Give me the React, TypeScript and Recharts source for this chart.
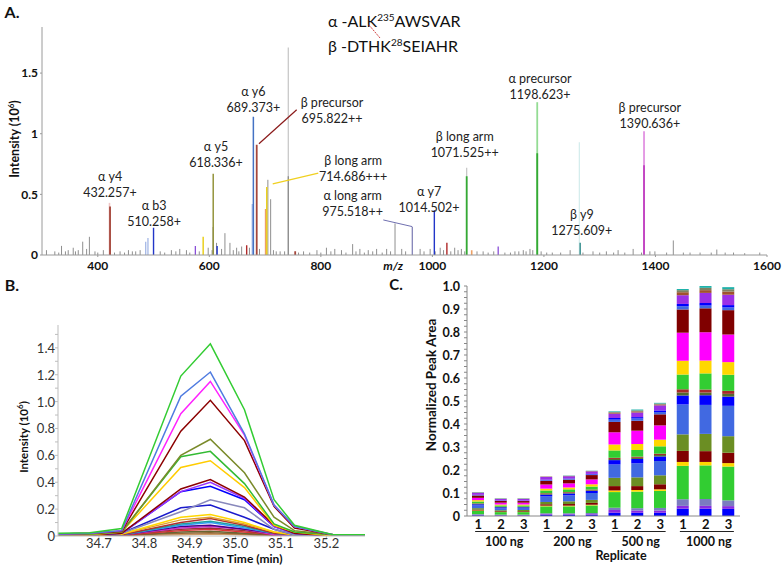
import React from 'react';
import { Bar, BarChart, Line, LineChart, ReferenceDot, ReferenceLine, XAxis, YAxis } from 'recharts';

const FONT = "Lato, 'Noto Sans', 'DejaVu Sans', sans-serif";

// ---------- panel A: MS/MS spectrum (m/z, intensity 10^6) ----------
const greyPeaks = [
  [308, 0.04], [323, 0.03], [330, 0.02], [335, 0.075], [342, 0.03], [347, 0.04], [356, 0.06], [360, 0.03],
  [365, 0.04], [373, 0.11], [380, 0.05], [385, 0.15], [395, 0.03], [400, 0.02], [410, 0.04], [430, 0.02],
  [440, 0.03], [448, 0.02], [455, 0.04], [462, 0.03], [468, 0.03], [476, 0.04], [512, 0.03], [520, 0.02],
  [532, 0.04], [540, 0.03], [547, 0.05], [559, 0.04], [565, 0.02], [582, 0.03], [598, 0.06], [605, 0.04],
  [613, 0.1], [622, 0.05], [628, 0.18], [637, 0.1], [643, 0.04], [649, 0.06], [653, 0.03], [658, 0.07],
  [672, 0.06], [690, 0.05], [705, 0.62], [710, 0.46], [715, 0.04], [720, 0.03], [727, 0.03], [735, 0.03],
  [760, 0.02], [769, 0.03], [780, 0.02], [793, 0.04], [800, 0.02], [810, 0.06], [818, 0.03], [825, 0.05],
  [837, 0.04], [845, 0.02], [857, 0.09], [863, 0.03], [870, 0.05], [878, 0.02], [885, 0.04], [893, 0.03],
  [900, 0.05], [910, 0.02], [918, 0.05], [925, 0.03], [933, 0.26], [945, 0.05], [952, 0.03], [978, 0.05],
  [985, 0.03], [996, 0.05], [1005, 0.03], [1014, 0.06], [1020, 0.04], [1033, 0.03], [1040, 0.06], [1046, 0.04],
  [1052, 0.05], [1058, 0.03], [1080, 0.03], [1091, 0.03], [1100, 0.02], [1110, 0.03], [1130, 0.02], [1140, 0.02],
  [1148, 0.03], [1155, 0.03], [1163, 0.04], [1168, 0.03], [1175, 0.05], [1180, 0.04], [1195, 0.03], [1205, 0.02],
  [1215, 0.02], [1230, 0.02], [1247, 0.04], [1270, 0.02], [1288, 0.03], [1300, 0.02], [1312, 0.03], [1325, 0.02],
  [1333, 0.04], [1345, 0.02], [1360, 0.05], [1375, 0.02], [1390, 0.03], [1399, 0.03], [1420, 0.02], [1432, 0.12],
  [1450, 0.02], [1462, 0.02], [1480, 0.02], [1500, 0.02], [1510, 0.045], [1525, 0.02], [1540, 0.02], [1560, 0.015],
  [1587, 0.02],
];
const paleGreyPeaks = [[741.6, 1.71], [1061.5, 0.72]];
const darkGreyPeaks = [[741.6, 0.65], [607, 0.23]];
const palePinkPeaks = [[421, 0.43]];
const paleCyanPeaks = [[1263.5, 0.93]];
const paleBluePeaks = [[486, 0.11], [490, 0.14], [677, 0.42]];
const brownPeaks = [[422, 0.4], [685, 0.91], [754, 0.03]];
const darkRedPeaks = [[667, 0.08], [1026, 0.1]];
const bluePeaks = [[500, 0.225], [614, 0.075], [1003.5, 0.37]];
const steelPeaks = [[679, 1.14]];
const purplePeaks = [[575, 0.075], [1118, 0.07]];
const yellowPeaks = [[589, 0.15], [703, 0.56]];
const peachPeaks = [[701, 0.38], [1070.5, 0.04]];
const olivePeaks = [[607, 0.67]];
const lavenderPeaks = [[964, 0.23]];
const paleGreenPeaks = [[1188, 1.26]];
const greenPeaks = [[1061.5, 0.65], [1188, 0.84]];
const tealPeaks = [[1265, 0.1]];
const paleMagentaPeaks = [[1379.5, 1.02]];
const magentaPeaks = [[1379.5, 0.74]];

const spectrumTicksX = [400, 600, 800, 1000, 1200, 1400, 1600];
const spectrumTicksY = [0, 0.5, 1, 1.5];

const annLabels = [
  { mz: 422, v: 0.647, top: 'α y4', bottom: '432.257+' },
  { mz: 501, v: 0.407, top: 'α b3', bottom: '510.258+' },
  { mz: 612, v: 0.895, top: 'α y5', bottom: '618.336+' },
  { mz: 679, v: 1.35, top: 'α y6', bottom: '689.373+' },
  { mz: 820, v: 1.254, top: 'β precursor', bottom: '695.822++' },
  { mz: 858, v: 0.777, top: 'β long arm', bottom: '714.686+++' },
  { mz: 857, v: 0.49, top: 'α long arm', bottom: '975.518++' },
  { mz: 994, v: 0.523, top: 'α y7', bottom: '1014.502+' },
  { mz: 1058, v: 0.978, top: 'β long arm', bottom: '1071.525++' },
  { mz: 1193, v: 1.452, top: 'α precursor', bottom: '1198.623+' },
  { mz: 1268, v: 0.331, top: 'β y9', bottom: '1275.609+' },
  { mz: 1390, v: 1.217, top: 'β precursor', bottom: '1390.636+' },
];

// ---------- panel B: extracted ion chromatograms ----------
const rtTimes = [34.61, 34.68, 34.75, 34.88, 34.945, 35.02, 35.085, 35.13, 35.215, 35.285];
const xicGreen = [0.02, 0.025, 0.055, 1.19, 1.43, 0.94, 0.27, 0.08, 0.01, 0.01];
const xicCornflower = [0.015, 0.02, 0.04, 1.04, 1.22, 0.76, 0.23, 0.07, 0.01, 0.01];
const xicMagenta = [0.015, 0.02, 0.04, 0.91, 1.15, 0.75, 0.23, 0.07, 0.01, 0.01];
const xicMaroon = [0.015, 0.02, 0.035, 0.78, 1.01, 0.71, 0.22, 0.06, 0.01, 0.01];
const xicOlive = [0.01, 0.015, 0.03, 0.6, 0.72, 0.47, 0.14, 0.04, 0.01, 0.01];
const xicGreen2 = [0.01, 0.015, 0.03, 0.59, 0.63, 0.39, 0.09, 0.03, 0.01, 0.01];
const xicGold = [0.01, 0.01, 0.03, 0.51, 0.56, 0.36, 0.08, 0.03, 0, 0];
const xicMaroon2 = [0.01, 0.01, 0.02, 0.35, 0.42, 0.29, 0.08, 0.02, 0, 0];
const xicPurple = [0.01, 0.01, 0.02, 0.33, 0.4, 0.28, 0.07, 0.02, 0, 0];
const xicBlue = [0.01, 0.01, 0.02, 0.33, 0.37, 0.27, 0.07, 0.02, 0, 0];
const xicLavender = [0.01, 0.01, 0.02, 0.18, 0.27, 0.21, 0.05, 0.01, 0, 0];
const xicBlue2 = [0.01, 0.01, 0.02, 0.21, 0.23, 0.14, 0.05, 0.01, 0, 0];
const xicYellow = [0.005, 0.01, 0.015, 0.14, 0.16, 0.1, 0.03, 0.01, 0, 0];
const xicOrange = [0.005, 0.01, 0.015, 0.12, 0.14, 0.09, 0.03, 0.01, 0, 0];
const xicBrick = [0.005, 0.005, 0.01, 0.1, 0.13, 0.08, 0.02, 0.01, 0, 0];
const xicTeal = [0.005, 0.005, 0.01, 0.09, 0.11, 0.07, 0.02, 0.01, 0, 0];
const xicSky = [0.005, 0.005, 0.01, 0.08, 0.1, 0.06, 0.02, 0.005, 0, 0];
const xicIndigo = [0.005, 0.005, 0.01, 0.07, 0.08, 0.05, 0.02, 0.005, 0, 0];
const xicViolet = [0.005, 0.005, 0.01, 0.06, 0.07, 0.05, 0.01, 0.005, 0, 0];
const xicRust = [0.005, 0.005, 0.01, 0.05, 0.06, 0.04, 0.01, 0.005, 0, 0];
const xicRed = [0, 0.005, 0.005, 0.04, 0.05, 0.03, 0.01, 0, 0, 0];
const xicDarkOlive = [0, 0, 0.005, 0.03, 0.035, 0.02, 0.01, 0, 0, 0];
const xicBrown = [0, 0, 0.005, 0.02, 0.025, 0.015, 0.005, 0, 0, 0];
const xicTan = [0, 0, 0, 0.01, 0.015, 0.01, 0, 0, 0, 0];
const rtTicks = [34.7, 34.8, 34.9, 35.0, 35.1, 35.2];

// ---------- panel C: normalized peak areas ----------
const replicateLabels = ['1', '2', '3', '1', '2', '3', '1', '2', '3', '1', '2', '3'];
const loadLabels = ['100 ng', '200 ng', '500 ng', '1000 ng'];
const cBlueBase = [0.003, 0.002, 0.002, 0.005, 0.005, 0.005, 0.014, 0.014, 0.014, 0.032, 0.032, 0.031];
const cPurpleBase = [0.002, 0.002, 0.002, 0.003, 0.003, 0.003, 0.012, 0.01, 0.01, 0.012, 0.012, 0.012];
const cLavender = [0.003, 0.002, 0.002, 0.004, 0.004, 0.005, 0.01, 0.01, 0.011, 0.029, 0.03, 0.025];
const cGreenLow = [0.014, 0.011, 0.011, 0.03, 0.03, 0.033, 0.068, 0.072, 0.074, 0.145, 0.146, 0.147];
const cGoldThin = [0.002, 0.001, 0.001, 0.003, 0.003, 0.003, 0.007, 0.007, 0.007, 0.017, 0.015, 0.015];
const cMaroonLow = [0.004, 0.003, 0.003, 0.006, 0.007, 0.008, 0.019, 0.017, 0.022, 0.048, 0.047, 0.045];
const cOlive = [0.006, 0.004, 0.005, 0.01, 0.012, 0.013, 0.036, 0.038, 0.039, 0.072, 0.075, 0.072];
const cRoyal = [0.012, 0.009, 0.009, 0.024, 0.026, 0.03, 0.058, 0.061, 0.062, 0.13, 0.126, 0.132];
const cBlueMid = [0.005, 0.004, 0.003, 0.008, 0.008, 0.009, 0.019, 0.019, 0.02, 0.039, 0.042, 0.04];
const cDarkOlive = [0.002, 0.001, 0.001, 0.003, 0.003, 0.003, 0.005, 0.005, 0.006, 0.013, 0.012, 0.012];
const cRedThin = [0.002, 0.001, 0.001, 0.003, 0.003, 0.003, 0.005, 0.005, 0.006, 0.014, 0.013, 0.013];
const cGreenHigh = [0.008, 0.006, 0.006, 0.012, 0.012, 0.013, 0.032, 0.029, 0.032, 0.064, 0.07, 0.07];
const cGold = [0.006, 0.004, 0.004, 0.008, 0.008, 0.01, 0.026, 0.026, 0.029, 0.06, 0.056, 0.055];
const cMagenta = [0.01, 0.008, 0.008, 0.018, 0.018, 0.021, 0.053, 0.058, 0.062, 0.122, 0.123, 0.12];
const cMaroonHigh = [0.01, 0.008, 0.007, 0.016, 0.016, 0.019, 0.045, 0.043, 0.048, 0.101, 0.104, 0.106];
const cRoyalThin = [0.002, 0.001, 0.001, 0.003, 0.003, 0.003, 0.01, 0.01, 0.01, 0.014, 0.012, 0.012];
const cBlueThin = [0.001, 0.001, 0.001, 0.002, 0.002, 0.002, 0.007, 0.006, 0.007, 0.01, 0.011, 0.01];
const cViolet = [0.009, 0.006, 0.007, 0.012, 0.01, 0.011, 0.019, 0.02, 0.022, 0.038, 0.044, 0.045];
const cBrown = [0.001, 0.001, 0.001, 0.001, 0.001, 0.001, 0.004, 0.005, 0.004, 0.013, 0.012, 0.014];
const cKhaki = [0.001, 0.001, 0.001, 0.001, 0.001, 0.001, 0.003, 0.004, 0.004, 0.009, 0.01, 0.01];
const cTeal = [0.001, 0.001, 0.001, 0, 0.001, 0.001, 0.003, 0.004, 0.003, 0.005, 0.008, 0.009];

// ---------- build tables ----------
const sticks = (peaks: number[][]) => {
  const out: any[] = [];
  [...peaks].sort((a, b) => a[0] - b[0]).forEach(([mz, h]) => {
    out.push({ mz, v: 0 }, { mz, v: h }, { mz, v: null });
  });
  return out;
};

const spectrumSeries = [
  { name: 'paleGrey', peaks: paleGreyPeaks, color: '#c4c4c4', w: 1.2 },
  { name: 'palePink', peaks: palePinkPeaks, color: '#f0c6c6', w: 1.6 },
  { name: 'paleCyan', peaks: paleCyanPeaks, color: '#d2ecec', w: 1.2 },
  { name: 'paleBlue', peaks: paleBluePeaks, color: '#9db2e4', w: 1.2 },
  { name: 'grey', peaks: greyPeaks, color: '#8f8f8f', w: 1 },
  { name: 'darkGrey', peaks: darkGreyPeaks, color: '#888888', w: 1.2 },
  { name: 'brown', peaks: brownPeaks, color: '#a5463a', w: 1.8 },
  { name: 'darkRed', peaks: darkRedPeaks, color: '#b02a2a', w: 1.4 },
  { name: 'blue', peaks: bluePeaks, color: '#2236c8', w: 1.4 },
  { name: 'steel', peaks: steelPeaks, color: '#4472c4', w: 1.5 },
  { name: 'purple', peaks: purplePeaks, color: '#8a4fd8', w: 1.3 },
  { name: 'peach', peaks: peachPeaks, color: '#eda064', w: 1.6 },
  { name: 'yellow', peaks: yellowPeaks, color: '#ead020', w: 1.5 },
  { name: 'olive', peaks: olivePeaks, color: '#94943c', w: 1.5 },
  { name: 'lavender', peaks: lavenderPeaks, color: '#8484b8', w: 1.3 },
  { name: 'paleGreen', peaks: paleGreenPeaks, color: '#94dc94', w: 1.8 },
  { name: 'green', peaks: greenPeaks, color: '#34aa34', w: 1.8 },
  { name: 'teal', peaks: tealPeaks, color: '#2f8a8a', w: 1.4 },
  { name: 'paleMagenta', peaks: paleMagentaPeaks, color: '#e292e2', w: 1.8 },
  { name: 'magenta', peaks: magentaPeaks, color: '#c040c0', w: 1.8 },
];

const xicSeries = [
  { key: 'tan', values: xicTan, color: '#cc9966' },
  { key: 'brown', values: xicBrown, color: '#996633' },
  { key: 'darkOlive', values: xicDarkOlive, color: '#666633' },
  { key: 'red', values: xicRed, color: '#dd3333' },
  { key: 'rust', values: xicRust, color: '#993333' },
  { key: 'violet', values: xicViolet, color: '#cc33cc' },
  { key: 'indigo', values: xicIndigo, color: '#4b0082' },
  { key: 'sky', values: xicSky, color: '#3399ff' },
  { key: 'teal', values: xicTeal, color: '#20a0a0' },
  { key: 'brick', values: xicBrick, color: '#b03030' },
  { key: 'orange', values: xicOrange, color: '#e0a030' },
  { key: 'yellow', values: xicYellow, color: '#ffd700' },
  { key: 'blue2', values: xicBlue2, color: '#1a1acc' },
  { key: 'lavender', values: xicLavender, color: '#8888bb' },
  { key: 'blue', values: xicBlue, color: '#0000ff' },
  { key: 'purple', values: xicPurple, color: '#9933ff' },
  { key: 'maroon2', values: xicMaroon2, color: '#8b0000' },
  { key: 'gold', values: xicGold, color: '#ffcc00' },
  { key: 'green2', values: xicGreen2, color: '#33bb33' },
  { key: 'olive', values: xicOlive, color: '#7a8a2a' },
  { key: 'maroon', values: xicMaroon, color: '#8b0000' },
  { key: 'magenta', values: xicMagenta, color: '#ff22ff' },
  { key: 'cornflower', values: xicCornflower, color: '#4f7be0' },
  { key: 'green', values: xicGreen, color: '#33cc33' },
];
const xicData = rtTimes.map((t, i) => {
  const row: any = { t };
  xicSeries.forEach((s) => (row[s.key] = s.values[i]));
  return row;
});

const areaSeries = [
  { key: 'blueBase', values: cBlueBase, color: '#0000ff' },
  { key: 'purpleBase', values: cPurpleBase, color: '#8a2be2' },
  { key: 'lavender', values: cLavender, color: '#7b7bc0' },
  { key: 'greenLow', values: cGreenLow, color: '#32cd32' },
  { key: 'goldThin', values: cGoldThin, color: '#ffd700' },
  { key: 'maroonLow', values: cMaroonLow, color: '#800000' },
  { key: 'olive', values: cOlive, color: '#6b8e23' },
  { key: 'royal', values: cRoyal, color: '#4169e1' },
  { key: 'blueMid', values: cBlueMid, color: '#0000ff' },
  { key: 'darkOlive', values: cDarkOlive, color: '#556b2f' },
  { key: 'redThin', values: cRedThin, color: '#a52a2a' },
  { key: 'greenHigh', values: cGreenHigh, color: '#32cd32' },
  { key: 'gold', values: cGold, color: '#ffd700' },
  { key: 'magenta', values: cMagenta, color: '#ff00ff' },
  { key: 'maroonHigh', values: cMaroonHigh, color: '#800000' },
  { key: 'royalThin', values: cRoyalThin, color: '#4169e1' },
  { key: 'blueThin', values: cBlueThin, color: '#0000ff' },
  { key: 'violet', values: cViolet, color: '#9b30e6' },
  { key: 'brown', values: cBrown, color: '#a0522d' },
  { key: 'khaki', values: cKhaki, color: '#808060' },
  { key: 'teal', values: cTeal, color: '#20b2aa' },
];
const areaData = replicateLabels.map((r, i) => {
  const row: any = { slot: `${loadLabels[Math.floor(i / 3)]}-${r}` };
  areaSeries.forEach((s) => (row[s.key] = s.values[i]));
  return row;
});

// ---------- small helpers ----------
const VLabel = ({ cx, cy, size, children }: any) => (
  <div
    style={{
      position: 'absolute',
      left: cx,
      top: cy,
      transform: 'translate(-50%, -50%) rotate(-90deg)',
      whiteSpace: 'nowrap',
      fontWeight: 700,
      fontSize: size,
      lineHeight: 1,
      color: '#111',
    }}
  >
    {children}
  </div>
);

const TextAt = ({ cx, cy, style, children }: any) => (
  <div
    style={{
      position: 'absolute',
      left: cx,
      top: cy,
      transform: 'translate(-50%, -50%)',
      whiteSpace: 'nowrap',
      color: '#111',
      lineHeight: 1,
      ...style,
    }}
  >
    {children}
  </div>
);

const AnnText = ({ cx, cy, top, bottom }: any) => (
  <g>
    <text x={cx} y={cy} textAnchor="middle" dominantBaseline="central" fontSize={12.5} fill="#222">
      {top}
    </text>
    <text x={cx} y={cy + 16} textAnchor="middle" dominantBaseline="central" fontSize={12.5} fill="#222">
      {bottom}
    </text>
  </g>
);

const YTickB = ({ x, y, payload }: any) => {
  const v = payload.value;
  if (Math.round(v * 10) % 2 !== 0) return <g />;
  return (
    <text x={x} y={y} textAnchor="end" dominantBaseline="central" fontSize={13} fill="#333">
      {v === 0 ? '0' : v.toFixed(1)}
    </text>
  );
};

const YTickC = ({ x, y, payload }: any) => {
  const v = payload.value;
  if (Math.abs(v * 10 - Math.round(v * 10)) > 1e-6) return <g />;
  return (
    <text x={x} y={y} textAnchor="end" dominantBaseline="central" fontSize={12.5} fontWeight={700} fill="#111">
      {v === 0 ? '0' : v.toFixed(1)}
    </text>
  );
};

const XTickC = ({ x, y, payload, index }: any) => {
  const i = payload?.index ?? index;
  const mid = i % 3 === 1;
  return (
    <g>
      <text x={x} y={y + 8} textAnchor="middle" dominantBaseline="central" fontSize={13} fontWeight={700} fill="#111">
        {replicateLabels[i]}
      </text>
      {mid && <line x1={x - 26} x2={x + 28} y1={y + 15.5} y2={y + 15.5} stroke="#222" strokeWidth={1.2} />}
      {mid && (
        <text x={x + 3} y={y + 25} textAnchor="middle" dominantBaseline="central" fontSize={12.5} fontWeight={700} fill="#111">
          {loadLabels[Math.floor(i / 3)]}
        </text>
      )}
    </g>
  );
};

const rtMinor = Array.from({ length: 16 }, (_, i) => Math.round(i * 10) / 100);
const areaTicks = Array.from({ length: 41 }, (_, i) => i / 40);

const App = () => {
  return (
    <div
      style={{
        position: 'absolute',
        left: 0,
        top: 0,
        width: 782,
        height: 566,
        background: '#fff',
        fontFamily: FONT,
        overflow: 'hidden',
      }}
    >
      {/* A. spectrum */}
      <div style={{ position: 'absolute', left: 0, top: 0 }}>
        <LineChart width={782} height={285} margin={{ top: 27, right: 15, left: 0, bottom: 0 }}>
          <XAxis
            type="number"
            dataKey="mz"
            domain={[300, 1600]}
            ticks={spectrumTicksX}
            interval={0}
            allowDataOverflow
            height={30}
            stroke="#9a9a9a"
            tickSize={2}
            tickMargin={4}
            tick={{ fontSize: 12, fontWeight: 700, fill: '#111' }}
          />
          <YAxis
            type="number"
            domain={[0, 1.88]}
            ticks={spectrumTicksY}
            interval={0}
            allowDataOverflow
            width={42}
            stroke="#9a9a9a"
            tickSize={2}
            tickMargin={2}
            tick={{ fontSize: 12, fontWeight: 700, fill: '#111' }}
          />
          {spectrumSeries.map((s) => (
            <Line
              key={s.name}
              data={sticks(s.peaks)}
              dataKey="v"
              stroke={s.color}
              strokeWidth={s.w}
              dot={false}
              activeDot={false}
              connectNulls={false}
              isAnimationActive={false}
            />
          ))}
          <ReferenceLine segment={[{ x: 689, y: 0.917 }, { x: 756.7, y: 1.198 }]} stroke="#8b1a1a" strokeWidth={1.2} />
          <ReferenceLine segment={[{ x: 713.7, y: 0.587 }, { x: 795.4, y: 0.675 }]} stroke="#f0d020" strokeWidth={1.2} />
          <ReferenceLine segment={[{ x: 912, y: 0.289 }, { x: 964, y: 0.234 }]} stroke="#7070b0" strokeWidth={1} />
          {annLabels.map((a, i) => (
            <ReferenceDot
              key={i}
              x={a.mz}
              y={a.v}
              r={0}
              ifOverflow="visible"
              shape={(p: any) => <AnnText cx={p.cx} cy={p.cy} top={a.top} bottom={a.bottom} />}
            />
          ))}
        </LineChart>
      </div>

      {/* B. chromatograms */}
      <div style={{ position: 'absolute', left: 0, top: 285 }}>
        <LineChart data={xicData} width={380} height={281} margin={{ top: 40, right: 15, left: 0, bottom: 0 }}>
          <XAxis
            type="number"
            dataKey="t"
            domain={[34.61, 35.285]}
            ticks={rtTicks}
            interval={0}
            allowDataOverflow
            height={30}
            stroke="#bdbdbd"
            tickSize={3}
            tickMargin={0}
            tickFormatter={(v: number) => v.toFixed(1)}
            tick={{ fontSize: 13, fill: '#333' }}
          />
          <YAxis
            type="number"
            domain={[0, 1.57]}
            ticks={rtMinor}
            interval={0}
            allowDataOverflow
            width={58}
            stroke="#bdbdbd"
            tickSize={3}
            tickMargin={0}
            tick={<YTickB />}
          />
          {xicSeries.map((s) => (
            <Line
              key={s.key}
              dataKey={s.key}
              type="linear"
              stroke={s.color}
              strokeWidth={1.5}
              dot={false}
              activeDot={false}
              isAnimationActive={false}
            />
          ))}
        </LineChart>
      </div>

      {/* C. stacked peak areas */}
      <div style={{ position: 'absolute', left: 380, top: 270 }}>
        <BarChart data={areaData} width={402} height={296} margin={{ top: 16, right: 42, left: 0, bottom: 0 }}>
          <XAxis dataKey="slot" height={50} stroke="#888" tickLine={false} tickSize={0} tickMargin={0} interval={0} tick={<XTickC />} />
          <YAxis
            type="number"
            domain={[0, 1]}
            ticks={areaTicks}
            interval={0}
            width={87}
            stroke="#888"
            tickSize={3}
            tickMargin={4}
            tick={<YTickC />}
          />
          {areaSeries.map((s) => (
            <Bar key={s.key} dataKey={s.key} stackId="a" fill={s.color} barSize={12} isAnimationActive={false} />
          ))}
        </BarChart>
      </div>

      {/* text overlays */}
      <TextAt cx={12} cy={12} style={{ fontWeight: 700, fontSize: 16 }}>A.</TextAt>
      <TextAt cx={12} cy={285} style={{ fontWeight: 700, fontSize: 16 }}>B.</TextAt>
      <TextAt cx={396} cy={284} style={{ fontWeight: 700, fontSize: 15 }}>C.</TextAt>

      <div style={{ position: 'absolute', left: 328, top: 9, fontSize: 16, lineHeight: '24px', color: '#111', whiteSpace: 'nowrap' }}>
        <div>
          α -ALK<sup style={{ fontSize: 10, lineHeight: 0 }}>235</sup>AWSVAR
        </div>
        <div style={{ marginTop: 1 }}>
          β -DTHK<sup style={{ fontSize: 10, lineHeight: 0 }}>28</sup>SEIAHR
        </div>
      </div>
      <svg style={{ position: 'absolute', left: 0, top: 0 }} width={782} height={60}>
        <line x1={369} y1={25} x2={380} y2={38} stroke="#d04040" strokeWidth={1} strokeDasharray="2 1" />
      </svg>

      <VLabel cx={15} cy={139} size={12.5}>
        Intensity (10<sup style={{ fontSize: 8, lineHeight: 0 }}>6</sup>)
      </VLabel>
      <TextAt cx={393} cy={266} style={{ fontWeight: 700, fontStyle: 'italic', fontSize: 12 }}>m/z</TextAt>

      <VLabel cx={24} cy={437} size={11.5}>
        Intensity (10<sup style={{ fontSize: 8, lineHeight: 0 }}>6</sup>)
      </VLabel>
      <TextAt cx={227} cy={559} style={{ fontWeight: 700, fontSize: 12 }}>Retention Time (min)</TextAt>

      <VLabel cx={432} cy={385} size={13.5}>Normalized Peak Area</VLabel>
      <TextAt cx={621} cy={556} style={{ fontWeight: 700, fontSize: 12.5 }}>Replicate</TextAt>
    </div>
  );
};

export default App;
